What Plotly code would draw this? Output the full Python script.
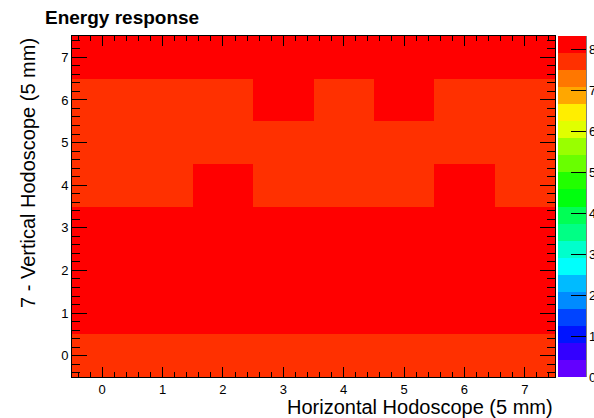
import colorsys
import plotly.graph_objects as go

# Hodoscope channel indices
x_channels = [0, 1, 2, 3, 4, 5, 6, 7]
y_channels = [0, 1, 2, 3, 4, 5, 6, 7]

# Energy response per hodoscope cell, rows ordered y = 0 .. 7
energy_rows = [
    [7.72, 7.68, 7.75, 7.70, 7.66, 7.74, 7.69, 7.71],
    [8.05, 8.12, 8.08, 8.15, 8.10, 8.06, 8.11, 8.03],
    [8.09, 8.18, 8.21, 8.14, 8.19, 8.16, 8.13, 8.07],
    [8.02, 8.10, 8.17, 8.32, 8.20, 8.12, 8.08, 7.98],
    [7.80, 7.84, 7.95, 7.86, 7.83, 7.85, 7.96, 7.78],
    [7.65, 7.74, 7.82, 7.79, 7.81, 7.77, 7.73, 7.62],
    [7.58, 7.70, 7.76, 7.93, 7.80, 7.94, 7.72, 7.60],
    [8.00, 8.06, 8.04, 8.09, 8.07, 8.05, 8.02, 7.99],
]

colorbar_ticks = [0, 1, 2, 3, 4, 5, 6, 7, 8]

# Pixel geometry of the frame
W, H = 594, 418
L, R, T, B = 72, 555, 36, 377
pw, ph = R - L, B - T

# Classic violet->red spectrum (50 hues), sampled onto 20 contour levels
n_levels = 20
n_pal = 50
def pal_color(i):
    hue = 280 - (i + 1) * (280 / n_pal)
    r, g, b = colorsys.hls_to_rgb(hue / 360.0, 0.5, 1.0)
    return f"rgb({round(r*255)},{round(g*255)},{round(b*255)})"

colorscale = []
for j in range(n_levels):
    c = pal_color(int((j + 0.99) * n_pal / n_levels))
    colorscale.append([j / n_levels, c])
    colorscale.append([(j + 1) / n_levels, c])

zmax = max(max(r) for r in energy_rows)

FONT = "Liberation Sans, Arial, sans-serif"

fig = go.Figure()
fig.add_trace(go.Heatmap(
    x=x_channels, y=y_channels, z=energy_rows,
    zmin=0, zmax=zmax, colorscale=colorscale, zsmooth=False,
    hoverinfo="skip",
    colorbar=dict(
        x=(558 - L) / pw, xanchor="left", xpad=0,
        y=1, yanchor="top", ypad=0,
        len=ph, lenmode="pixels",
        thickness=28, thicknessmode="pixels",
        outlinewidth=0,
        tickmode="array", tickvals=colorbar_ticks,
        ticks="inside", ticklen=15, tickwidth=1, tickcolor="black",
        tickfont=dict(family=FONT, size=13, color="black"),
    ),
))

axis_common = dict(
    showgrid=False, zeroline=False,
    showline=True, linecolor="black", linewidth=1, mirror="ticks",
    ticks="inside", tickcolor="black", tickwidth=1,
    tickmode="linear", tick0=0, dtick=1,
    tickfont=dict(family=FONT, size=13, color="black"),
)

fig.update_xaxes(
    range=[-0.5, 7.5], ticklen=10,
    minor=dict(ticks="inside", ticklen=5, dtick=0.2, tick0=0,
               tickcolor="black", tickwidth=1),
    **axis_common,
)
fig.update_yaxes(
    range=[-0.5, 7.5], ticklen=15,
    minor=dict(ticks="inside", ticklen=8, dtick=0.2, tick0=0,
               tickcolor="black", tickwidth=1),
    **axis_common,
)

# right-hand axis line of the palette
fig.add_shape(type="line", xref="paper", yref="paper",
              x0=(586 - L) / pw, x1=(586 - L) / pw, y0=0, y1=1,
              line=dict(color="black", width=1))

fig.add_annotation(
    text="<b>Energy response</b>", xref="paper", yref="paper",
    x=(43 - L) / pw, xanchor="left", y=(B - 17) / ph, yanchor="middle",
    showarrow=False, font=dict(family=FONT, size=19, color="black"),
)
fig.add_annotation(
    text="Horizontal Hodoscope (5 mm)", xref="paper", yref="paper",
    x=1, xanchor="right", y=(B - 407) / ph, yanchor="middle",
    showarrow=False, font=dict(family=FONT, size=20, color="black"),
)
fig.add_annotation(
    text="7 - Vertical Hodoscope (5 mm)", xref="paper", yref="paper",
    x=(28 - L) / pw, xanchor="center", y=1, yanchor="top",
    textangle=-90,
    showarrow=False, font=dict(family=FONT, size=20, color="black"),
)

fig.update_layout(
    width=W, height=H,
    margin=dict(l=L, r=W - R, t=T, b=H - B, pad=0, autoexpand=False),
    paper_bgcolor="white", plot_bgcolor="white",
    showlegend=False,
)

fig.write_html("out.html")
